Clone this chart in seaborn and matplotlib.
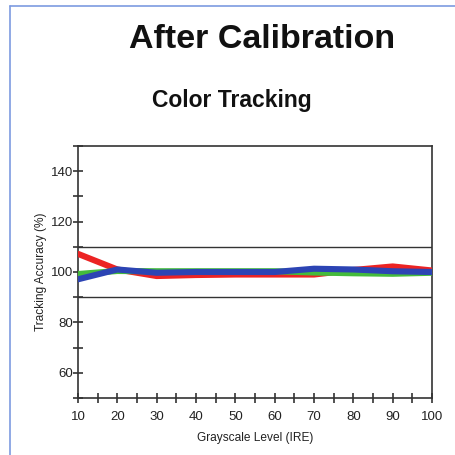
import pandas as pd
import numpy as np
import matplotlib
matplotlib.use("Agg")
import matplotlib.pyplot as plt
import seaborn as sns
from matplotlib.lines import Line2D
from matplotlib.ticker import MultipleLocator

ire = [10, 20, 30, 40, 50, 60, 70, 80, 90, 100]
red = [107.2, 101.0, 98.4, 98.8, 99.0, 99.0, 99.0, 100.8, 102.2, 100.6]
green = [99.2, 100.4, 100.3, 100.3, 100.3, 100.3, 99.8, 99.5, 99.3, 99.7]
blue = [97.1, 101.0, 99.7, 100.0, 100.0, 100.0, 101.3, 101.0, 100.3, 100.0]

df = pd.DataFrame({
    "ire": ire * 3,
    "acc": red + green + blue,
    "channel": ["Red"] * 10 + ["Green"] * 10 + ["Blue"] * 10,
})

sns.set_style("white")
plt.rcParams['font.family'] = ['Liberation Sans', 'DejaVu Sans']

fig = plt.figure(figsize=(4.55, 4.55), dpi=100)
ax = fig.add_axes([78 / 455, 1 - 398 / 455, (432 - 78) / 455, (398 - 146) / 455])

ax.axhline(110, color="#333333", lw=1.0, zorder=1)
ax.axhline(90, color="#333333", lw=1.0, zorder=1)

sns.lineplot(data=df, x="ire", y="acc", hue="channel",
             palette={"Red": "#ec2323", "Green": "#44bb3c", "Blue": "#2c44b4"},
             linewidth=4.4, legend=False, ax=ax, zorder=3)

ax.set_xlim(10, 100)
ax.set_ylim(50, 150)
ax.xaxis.set_major_locator(MultipleLocator(10))
ax.xaxis.set_minor_locator(MultipleLocator(5))
ax.yaxis.set_major_locator(MultipleLocator(20))
ax.yaxis.set_minor_locator(MultipleLocator(10))
ax.set_yticks([60, 80, 100, 120, 140])
ax.tick_params(axis="both", which="both", direction="inout", length=7, width=1.2,
               colors="#333333", labelsize=9.5, labelcolor="#222222",
               bottom=True, left=True)
ax.tick_params(axis="x", pad=6)
ax.tick_params(axis="y", pad=0)
for s in ax.spines.values():
    s.set_color("#333333")
    s.set_linewidth(1.2)

ax.set_xlabel("Grayscale Level (IRE)", fontsize=8.6, color="#222222", labelpad=6)
ax.set_ylabel("Tracking Accuracy (%)", fontsize=8.6, color="#222222", labelpad=3)

fig.text(262 / 455, 1 - 40 / 455, "After Calibration", ha="center", va="center",
         fontsize=24.5, fontweight="bold", color="#111111")
fig.text(232 / 455, 1 - 101 / 455, "Color Tracking", ha="center", va="center",
         fontsize=16.5, fontweight="bold", color="#111111")

# page border from the screenshot
fig.add_artist(Line2D([10 / 455, 10 / 455], [0, 1 - 6 / 455], color="#7d9be0", lw=1.2))
fig.add_artist(Line2D([10 / 455, 1], [1 - 6 / 455, 1 - 6 / 455], color="#7d9be0", lw=1.2))

fig.savefig("out.png", dpi=100, facecolor="white")
